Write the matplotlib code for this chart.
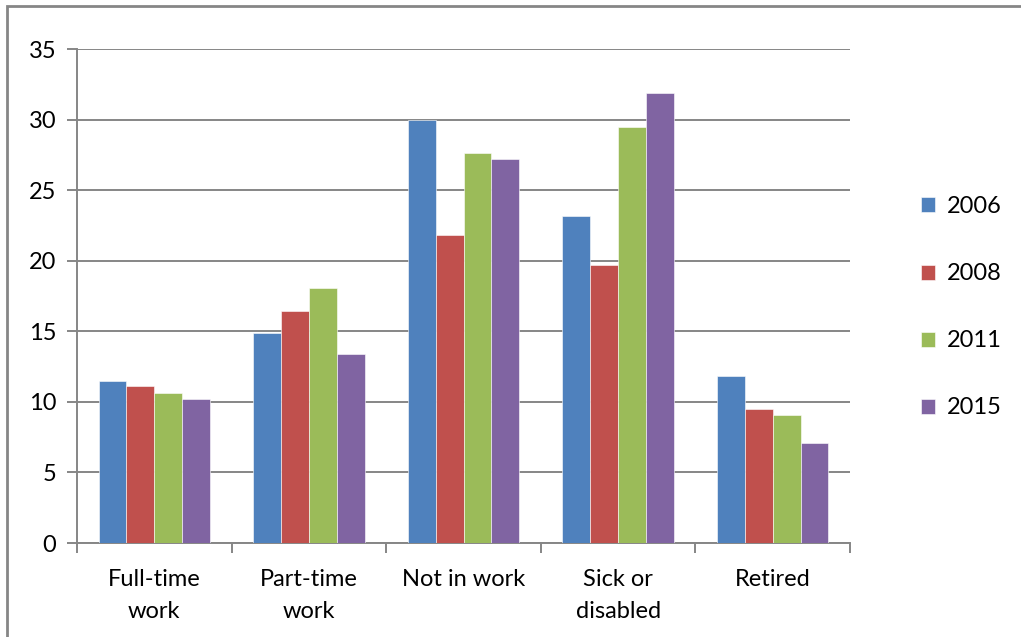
import matplotlib.pyplot as plt
from matplotlib.patches import Rectangle
import numpy as np

# survey shares (%) by economic status and year
categories = ['Full-time\nwork', 'Part-time\nwork', 'Not in work', 'Sick or\ndisabled', 'Retired']
years = ['2006', '2008', '2011', '2015']
v2006 = [11.5, 14.9, 29.95, 23.2, 11.8]
v2008 = [11.1, 16.45, 21.8, 19.7, 9.5]
v2011 = [10.6, 18.1, 27.6, 29.5, 9.1]
v2015 = [10.2, 13.4, 27.2, 31.9, 7.1]
yticks = [0, 5, 10, 15, 20, 25, 30, 35]

colours = ['#4f81bd', '#c0504d', '#9bbb59', '#8064a2']
grey = '#868686'

plt.rcParams['font.family'] = ['Lato', 'DejaVu Sans']
fs = 17

W, H = 1021, 637
fig = plt.figure(figsize=(W / 100, H / 100), dpi=100)
ax = fig.add_axes([77 / W, 1 - 543 / H, (850 - 77) / W, (543 - 49) / H])

# outer frame, only left and top edges visible
fig.patches.append(Rectangle((7 / W, -0.1), 1.2, (637 - 6) / H + 0.1,
                             transform=fig.transFigure, fill=False,
                             edgecolor=grey, linewidth=2))

x = np.arange(len(categories))
bw = 0.18
series = [v2006, v2008, v2011, v2015]
for i, (vals, c, lab) in enumerate(zip(series, colours, years)):
    ax.bar(x + (i - 1.5) * bw, vals, width=bw, color=c, label=lab,
           edgecolor='white', linewidth=0.4, zorder=3)

ax.set_xlim(-0.5, len(categories) - 0.5)
ax.set_ylim(0, 35)
ax.set_yticks(yticks)
ax.yaxis.grid(True, color=grey, linewidth=1.4)
ax.set_axisbelow(True)

ax.set_xticks(x)
ax.set_xticklabels(categories, fontsize=fs, linespacing=1.65)
ax.set_xticks(np.arange(len(categories) + 1) - 0.5, minor=True)
ax.tick_params(axis='x', which='major', length=0, pad=19)
ax.tick_params(axis='x', which='minor', length=7, width=1.4, color=grey, direction='out')
ax.tick_params(axis='y', length=7, width=1.4, color=grey, labelsize=fs, pad=8)

for s in ['top', 'right']:
    ax.spines[s].set_visible(False)
for s in ['left', 'bottom']:
    ax.spines[s].set_color(grey)
    ax.spines[s].set_linewidth(1.4)

ax.legend(loc='center left', bbox_to_anchor=(1.064, 0.477), frameon=False,
          fontsize=fs, handlelength=0.6, handleheight=0.6,
          handletextpad=0.5, labelspacing=1.95)

fig.savefig('out.png', dpi=100)
